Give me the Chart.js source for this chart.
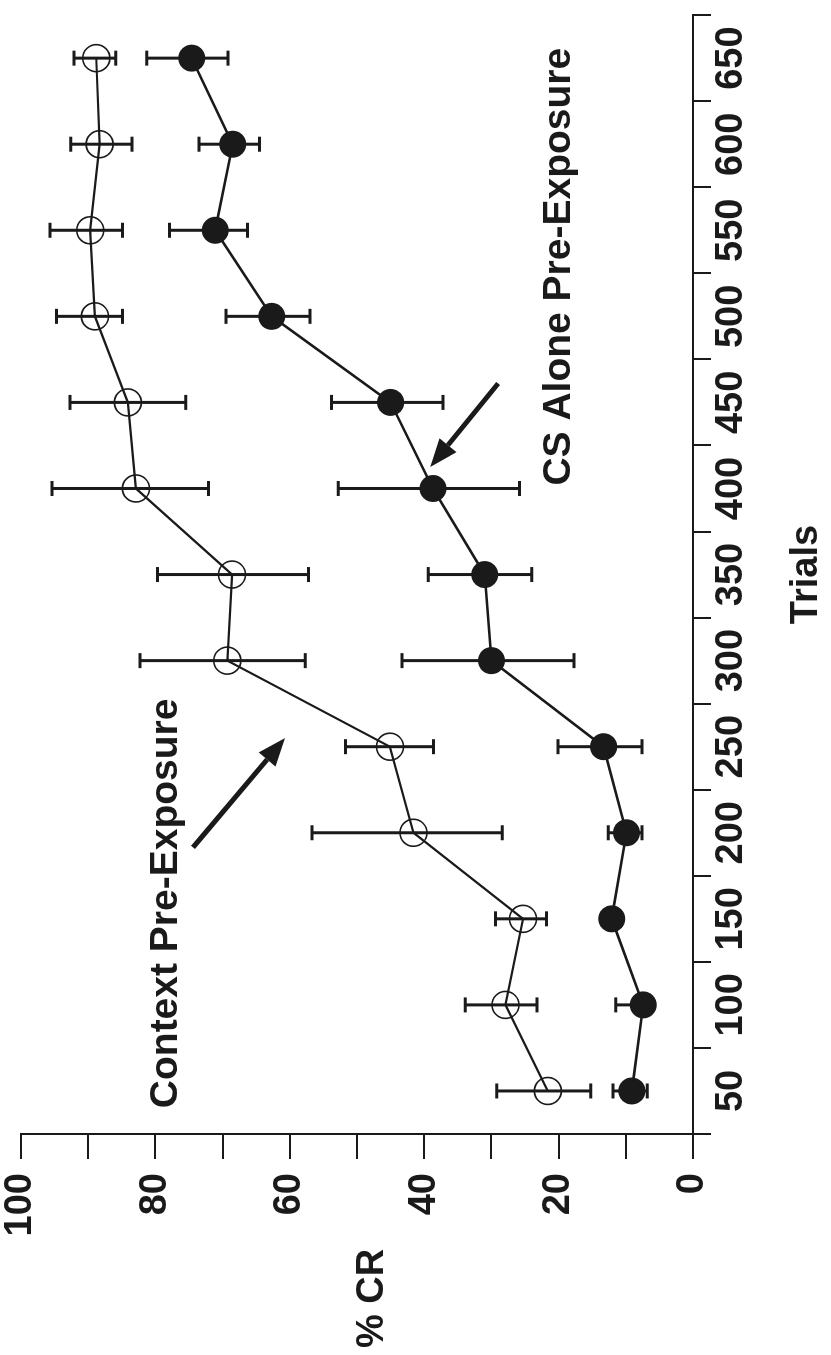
<!DOCTYPE html>
<html>
<head>
<meta charset="utf-8">
<script src="https://cdn.jsdelivr.net/npm/chart.js@4/dist/chart.umd.min.js"></script>
<style>
  html, body { margin: 0; padding: 0; background: #fff; }
  body { width: 831px; height: 1355px; overflow: hidden; position: relative; }
  /* the figure is printed on its side, so the whole chart is turned a quarter */
  #wrap { position: absolute; left: 0; top: 0; width: 1355px; height: 831px;
          transform-origin: 0 0; transform: translate(0, 1355px) rotate(-90deg); }
</style>
</head>
<body>
<div id="wrap"><canvas id="myChart" width="1355" height="831"></canvas></div>
<script>
var trials = ['50', '100', '150', '200', '250', '300', '350', '400', '450', '500', '550', '600', '650'];

var contextPct = [21.6, 27.9, 25.3, 41.6, 45.1, 69.3, 68.6, 82.9, 84.1, 89.0, 89.7, 88.3, 88.8];
var contextHi  = [29.2, 33.9, 29.4, 56.7, 51.7, 82.3, 79.7, 95.4, 92.7, 94.7, 95.7, 92.6, 92.1];
var contextLo  = [15.2, 23.2, 21.8, 28.4, 38.6, 57.7, 57.2, 72.1, 75.5, 84.9, 84.9, 83.5, 85.9];

var csAlonePct = [9.1, 7.4, 12.1, 9.9, 13.3, 30.0, 31.0, 38.7, 45.0, 62.7, 71.1, 68.5, 74.6];
var csAloneHi  = [11.9, 11.5, 13.5, 12.6, 20.1, 43.3, 39.4, 52.8, 53.8, 69.5, 77.9, 73.5, 81.3];
var csAloneLo  = [6.8, 7.4, 10.7, 7.6, 7.6, 17.7, 24.0, 25.8, 37.2, 57.0, 66.3, 64.5, 69.2];

var pctTicks = [0, 20, 40, 60, 80, 100];

var ink = '#1a1a1a';
var fam = '"Liberation Sans", Arial, Helvetica, sans-serif';

var errorBars = {
    id: 'errorBars',
    beforeDatasetsDraw: function (chart) {
        var c = chart.ctx, xs = chart.scales.x, ys = chart.scales.y;
        c.save();
        c.strokeStyle = ink;
        c.lineWidth = 3;
        function bar(i, lo, hi) {
            var x = xs.getPixelForValue(i);
            var y1 = ys.getPixelForValue(lo), y2 = ys.getPixelForValue(hi);
            c.beginPath();
            c.moveTo(x, y1); c.lineTo(x, y2);
            c.moveTo(x - 7.5, y1); c.lineTo(x + 7.5, y1);
            c.moveTo(x - 7.5, y2); c.lineTo(x + 7.5, y2);
            c.stroke();
        }
        for (var i = 0; i < trials.length; i++) {
            bar(i, contextLo[i], contextHi[i]);
            bar(i, csAloneLo[i], csAloneHi[i]);
        }
        c.restore();
    }
};

function arrow(c, x1, y1, x2, y2) {
    var a = Math.atan2(y2 - y1, x2 - x1), len = 28, half = 11;
    var bx = x2 - len * Math.cos(a), by = y2 - len * Math.sin(a);
    c.beginPath();
    c.moveTo(x1, y1); c.lineTo(bx, by);
    c.stroke();
    c.beginPath();
    c.moveTo(x2, y2);
    c.lineTo(bx + half * Math.sin(a), by - half * Math.cos(a));
    c.lineTo(bx - half * Math.sin(a), by + half * Math.cos(a));
    c.closePath();
    c.fill();
}

var notes = {
    id: 'notes',
    afterDatasetsDraw: function (chart) {
        var c = chart.ctx, xs = chart.scales.x, ys = chart.scales.y;
        c.save();
        c.fillStyle = ink;
        c.strokeStyle = ink;
        c.font = 'bold 39px ' + fam;
        c.textBaseline = 'alphabetic';
        c.textAlign = 'left';
        c.fillText('Context Pre-Exposure', xs.getPixelForValue(-0.2), ys.getPixelForValue(76.8));
        c.textAlign = 'right';
        c.fillText('CS Alone Pre-Exposure', xs.getPixelForValue(12.12), ys.getPixelForValue(18.3));

        c.lineWidth = 5;
        arrow(c, xs.getPixelForValue(2.83), ys.getPixelForValue(74.4), xs.getPixelForValue(4.10), ys.getPixelForValue(60.7));
        arrow(c, xs.getPixelForValue(8.22), ys.getPixelForValue(29.0), xs.getPixelForValue(7.25), ys.getPixelForValue(39.1));

        // y axis title sits level, left of the tick labels
        c.font = 'bold 38px ' + fam;
        c.textAlign = 'left';
        c.fillText('% CR', 7, ys.getPixelForValue(46.1));
        c.restore();
    }
};

var ctx = document.getElementById('myChart').getContext('2d');
var myChart = new Chart(ctx, {
    type: 'line',
    data: {
        labels: trials,
        datasets: [
            {
                label: 'Context Pre-Exposure',
                data: contextPct,
                borderColor: ink,
                borderWidth: 2.2,
                tension: 0,
                fill: false,
                pointRadius: 13.5,
                pointBorderWidth: 1.6,
                pointBorderColor: ink,
                pointBackgroundColor: 'rgba(0,0,0,0)'
            },
            {
                label: 'CS Alone Pre-Exposure',
                data: csAlonePct,
                borderColor: ink,
                borderWidth: 2.6,
                tension: 0,
                fill: false,
                pointRadius: 13.5,
                pointBorderWidth: 0,
                pointBackgroundColor: ink
            }
        ]
    },
    options: {
        responsive: false,
        animation: false,
        devicePixelRatio: 1,
        layout: { padding: { left: 0, right: 7, top: 21, bottom: 0 } },
        plugins: { legend: { display: false }, tooltip: { enabled: false } },
        scales: {
            x: {
                type: 'category',
                offset: true,
                grid: { offset: true, drawOnChartArea: false, drawTicks: true, tickLength: 18, color: ink, lineWidth: 2 },
                border: { display: true, color: ink, width: 2 },
                ticks: { color: ink, padding: 2, maxRotation: 0, autoSkip: false,
                         font: { family: fam, size: 38, weight: 'bold', lineHeight: 1 } },
                title: { display: true, text: 'Trials', color: ink, padding: { top: 0, bottom: 2 },
                         font: { family: fam, size: 38, weight: 'bold', lineHeight: 1.2 } },
                afterFit: function (s) { s.height = 138; s.paddingLeft = 0; s.paddingRight = 0; }
            },
            y: {
                min: 0,
                max: 100,
                grid: { drawOnChartArea: false, drawTicks: true, tickLength: 25, color: ink, lineWidth: 2 },
                border: { display: true, color: ink, width: 2 },
                ticks: {
                    stepSize: 10, autoSkip: false, color: ink, padding: 14,
                    font: { family: fam, size: 38, weight: 'bold', lineHeight: 1 },
                    callback: function (v) { return pctTicks.indexOf(v) >= 0 ? String(v) : ''; }
                },
                afterFit: function (s) { s.width = 221; s.paddingTop = 0; s.paddingBottom = 0; }
            }
        }
    },
    plugins: [errorBars, notes]
});
</script>
</body>
</html>
